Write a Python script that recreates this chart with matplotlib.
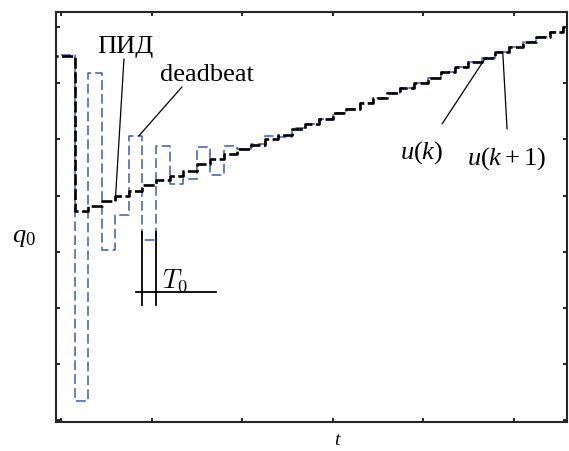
import numpy as np
import matplotlib
matplotlib.use("Agg")
import matplotlib.pyplot as plt

plt.rcParams["font.family"] = "Liberation Serif"
plt.rcParams["mathtext.fontset"] = "custom"
plt.rcParams["mathtext.rm"] = "Liberation Serif"
plt.rcParams["mathtext.it"] = "Liberation Serif:italic"
plt.rcParams["lines.scale_dashes"] = False

# sample period and control signals (one value per period)
T0 = 0.15
pid = [6.49, 3.725, 3.815, 3.904, 3.993, 4.082, 4.189, 4.278, 4.349, 4.439,
       4.563, 4.652, 4.742, 4.831, 4.902, 5.009, 5.080, 5.187, 5.276, 5.365,
       5.472, 5.544, 5.651, 5.740, 5.829, 5.918, 6.007, 6.096, 6.203, 6.292,
       6.381, 6.453, 6.560, 6.649, 6.738, 6.827, 6.916, 7.005]
deadbeat = [6.506, 0.339, 6.185, 3.030, 3.654, 5.062, 3.209, 4.884, 4.207, 4.296,
            4.866, 4.367, 4.884, 4.831, 4.920, 5.062, 5.045, 5.205, 5.276, 5.365,
            5.472, 5.544, 5.651, 5.740, 5.829, 5.918, 6.007, 6.096, 6.203, 6.292,
            6.381, 6.453, 6.560, 6.649, 6.738, 6.827, 6.916, 7.005]
x_ticks = [0, 1, 2, 3, 4, 5]
y_ticks = [0, 1, 2, 3, 4, 5, 6, 7]


def steps(vals):
    t = np.arange(len(vals) + 1) * T0
    t[0] = -T0  # first value is held from before the window
    return t, np.append(vals, vals[-1])


fig = plt.figure(figsize=(5.69, 4.52), dpi=100)
ax = fig.add_axes([56 / 569, 1 - 423 / 452, 511 / 569, 410 / 452])

ax.plot(*steps(deadbeat), drawstyle="steps-post", color="#3a5bb0", lw=1.1, dashes=(7, 3))
ax.plot(*steps(pid), drawstyle="steps-post", color="black", lw=1.9, dashes=(8, 2.5))

ax.set_xlim(-0.055, 5.59)
ax.set_ylim(-0.036, 7.27)
ax.set_xticks(x_ticks)
ax.set_yticks(y_ticks)
ax.set_xticklabels([])
ax.set_yticklabels([])
ax.tick_params(direction="in", length=3, width=1.4, top=True, right=True, color="#262626")
for s in ax.spines.values():
    s.set_linewidth(1.5)
    s.set_color("#262626")

line = dict(arrowstyle="-", color="black", lw=0.9, shrinkA=0, shrinkB=0)

# labels with leader lines
ax.annotate("", xy=(4 * T0, pid[3]), xytext=(0.696, 6.435), arrowprops=line)
ax.text(0.707, 6.56, "ПИД", fontsize=19, ha="center", va="baseline")

ax.annotate("", xy=(0.86, deadbeat[5]), xytext=(1.337, 5.936), arrowprops=line)
ax.text(1.613, 6.06, "deadbeat", fontsize=19, ha="center", va="baseline")

ax.annotate("", xy=(4.69, pid[31]), xytext=(4.21, 5.276), arrowprops=line)
ax.text(3.746, 4.67, r"$u(k)$", fontsize=19, ha="left", va="baseline")

ax.annotate("", xy=(4.88, pid[32]), xytext=(4.928, 5.187), arrowprops=line)
ax.text(4.486, 4.563, r"$u(k+1)$", fontsize=19, ha="left", va="baseline")

# sample period marker
ax.plot([6 * T0, 6 * T0], [2.05, 3.351], color="black", lw=1.3)
ax.plot([7 * T0, 7 * T0], [2.05, 3.351], color="black", lw=1.3)
ax.plot([0.829, 1.713], [2.282, 2.282], color="black", lw=1.3)
ax.text(1.116, 2.371, r"$T_0$", fontsize=19, ha="left", va="baseline", math_fontfamily="cm")

fig.text(24 / 569, 1 - 238 / 452, r"$q_0$", fontsize=19, ha="center", va="center")
fig.text(338 / 569, 1 - 441 / 452, r"$t$", fontsize=14, ha="center", va="center")

fig.savefig("out.png", dpi=100)
